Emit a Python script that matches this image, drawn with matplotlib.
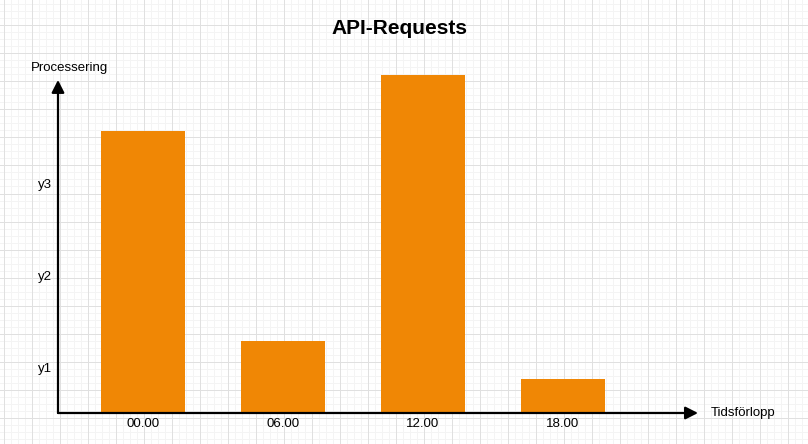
import matplotlib
matplotlib.use('Agg')
import matplotlib.pyplot as plt
import numpy as np

plt.rcParams['font.family'] = ['Liberation Sans', 'DejaVu Sans']

# data
categories = ['00.00', '06.00', '12.00', '18.00']
values = [3.07, 0.78, 3.67, 0.37]
ytick_pos = [0.5, 1.5, 2.5]
ytick_labels = ['y1', 'y2', 'y3']

W, H = 808, 444
fig = plt.figure(figsize=(W / 100, H / 100), dpi=100, facecolor='white')

# draw.io style grid background (pixel coords)
bg = fig.add_axes([0, 0, 1, 1], zorder=0)
bg.set_xlim(0, W)
bg.set_ylim(H, 0)
bg.axis('off')
for x in np.arange(3, W, 7):
    major = (x - 3) % 28 == 0
    bg.axvline(x + 0.5, color='#e0e0e0' if major else '#f4f4f4', lw=0.72,
               antialiased=False, zorder=1 if major else 0)
for y in np.arange(4, H, 7):
    major = (y - 25) % 28 == 0
    bg.axhline(y + 0.5, color='#e0e0e0' if major else '#f4f4f4', lw=0.72,
               antialiased=False, zorder=1 if major else 0)

# chart area
x_left, x_right = -0.607, 3.964
y_top = 4.0
ax = fig.add_axes([58 / W, 31 / H, 640 / W, 368 / H], zorder=1)
ax.patch.set_alpha(0)
ax.set_xlim(x_left, x_right)
ax.set_ylim(0, y_top)
for s in ax.spines.values():
    s.set_visible(False)

xs = np.arange(len(categories))
ax.bar(xs, values, width=0.6, color='#F08705', zorder=2)

ax.set_xticks(xs, categories)
ax.set_yticks(ytick_pos, ytick_labels)
ax.tick_params(length=0, labelsize=9.5, colors='black', pad=3.4)
ax.tick_params(axis='y', pad=4)

# axes arrows
arrow = dict(arrowstyle='-|>,head_length=0.75,head_width=0.38', color='black',
             lw=1.6, shrinkA=0, shrinkB=0)
ax.annotate('', xy=(x_left, 3.62), xytext=(x_left, 0), arrowprops=arrow,
            annotation_clip=False, zorder=3)
ax.annotate('', xy=(x_right, 0), xytext=(x_left, 0), arrowprops=arrow,
            annotation_clip=False, zorder=3)

ax.text(x_left + 0.08, 3.75, 'Processering', ha='center', va='center', fontsize=9.5)
ax.text(x_right + 0.09, 0.0, 'Tidsförlopp', ha='left', va='center', fontsize=9.5)

fig.text(399 / W, 1 - 28 / H, 'API-Requests', ha='center', va='center',
         fontsize=15, fontweight='bold')

fig.savefig('out.png', dpi=100, facecolor='white')
